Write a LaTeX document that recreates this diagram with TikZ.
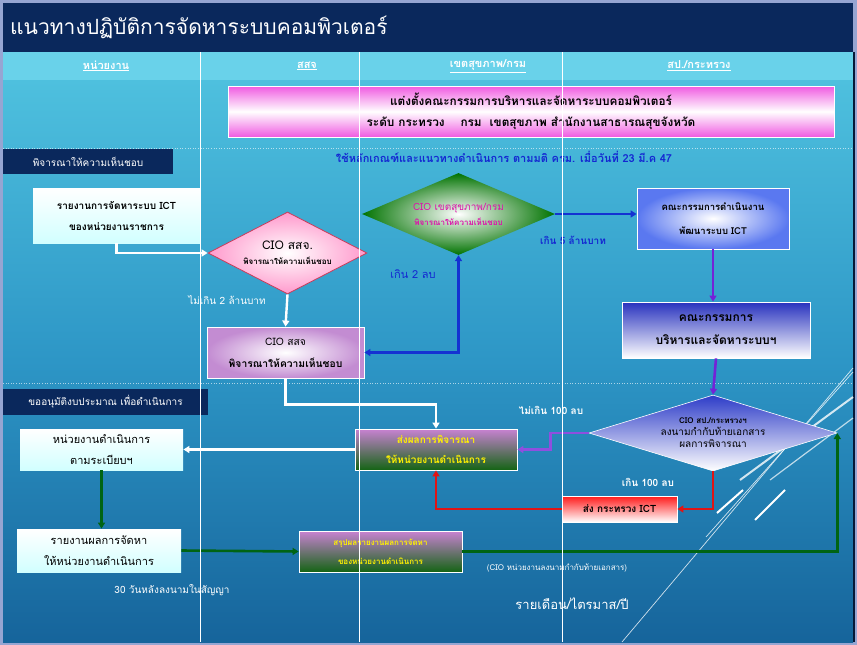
\documentclass[tikz,border=0pt]{standalone}
\usepackage{fontspec}
\setmainfont{Loma}[Script=Thai]
\usetikzlibrary{shapes.geometric,arrows.meta}
\definecolor{framec}{RGB}{150,165,210}
\definecolor{navy}{RGB}{10,40,92}
\definecolor{hdr}{RGB}{105,210,234}
\definecolor{bgtop}{RGB}{78,192,222}
\definecolor{bgmid}{RGB}{45,150,198}
\definecolor{bgbot}{RGB}{22,100,155}
\definecolor{arblue}{RGB}{20,50,210}
\definecolor{arpurp}{RGB}{115,35,215}
\definecolor{arred}{RGB}{225,20,20}
\definecolor{argreen}{RGB}{0,100,20}
\definecolor{txtblue}{RGB}{20,40,210}
\definecolor{magtxt}{RGB}{220,20,170}
\definecolor{pinkmag}{RGB}{240,90,225}
\begin{document}
\begin{tikzpicture}[x=1pt,y=-1pt,
  every node/.style={inner sep=0pt,align=center},
  box/.style={rectangle,draw=white,line width=0.8pt,font=\fontsize{10}{21}\selectfont},
  lightbox/.style={box,top color=white,bottom color=cyan!18,draw=none},
  navylab/.style={rectangle,fill=navy,text=white,font=\fontsize{10}{12}\selectfont},
  hd/.style={text=white,font=\fontsize{11}{13}\selectfont\bfseries},
  lab/.style={font=\fontsize{10}{12}\selectfont},
  wline/.style={white,line width=2.4pt,-{Triangle[width=7pt,length=6pt]}},
  cline/.style={line width=2.6pt,-{Triangle[width=7pt,length=6pt]}}
]
\useasboundingbox (0,0) rectangle (857,645);
% frame and background
\fill[framec] (0,0) rectangle (857,645);
\shade[top color=bgtop,bottom color=bgbot,middle color=bgmid] (3,80) rectangle (853,642);
\fill[hdr] (3,52) rectangle (853,80);
\fill[navy] (3,3) rectangle (853,52);
\draw[navy!60!black,line width=1.5pt] (854,52) -- (854,642);
% decorative diagonal lines
\begin{scope}[white]
\draw[line width=0.7pt,opacity=0.8] (622,642) -- (853,368);
\draw[line width=0.7pt,opacity=0.8] (706,537) -- (853,372);
\draw[line width=2pt] (717,513) -- (743,490);
\draw[line width=2pt] (755,520) -- (785,490);
\draw[line width=2pt,opacity=0.8] (740,480) -- (853,397);
\draw[line width=1.2pt,opacity=0.7] (770,480) -- (853,418);
\end{scope}
% dotted separators
\draw[white,opacity=0.6,dotted,line width=0.6pt] (3,148) -- (853,148);
\draw[white,opacity=0.6,dotted,line width=0.6pt] (3,383) -- (853,383);
% title
\node[anchor=west,text=white,font=\fontsize{21}{24}\selectfont] (title) at (10,27) {แนวทางปฏิบัติการจัดหาระบบคอมพิวเตอร์};
% headers
\node[hd] (h1) at (106,66) {\underline{หน่วยงาน}};
\node[hd] (h2) at (307,66) {\underline{สสจ}};
\node[hd] (h3) at (488,66) {\underline{เขตสุขภาพ/กรม}};
\node[hd] (h4) at (699,66) {\underline{สป./กระทรวง}};
% top pink box
\node[box,minimum width=606,minimum height=51,top color=pinkmag,bottom color=pinkmag,middle color=white,font=\fontsize{11.8}{21}\selectfont\bfseries] (appoint) at (531,111.5)
  {แต่งตั้งคณะกรรมการบริหารและจัดหาระบบคอมพิวเตอร์\\ระดับ กระทรวง \quad กรม \ เขตสุขภาพ สำนักงานสาธารณสุขจังหวัด};
% left section labels
\node[navylab,minimum width=170,minimum height=25] (lab1) at (88,161.5) {พิจารณาให้ความเห็นชอบ};
\node[navylab,minimum width=205,minimum height=26] (lab2) at (105.5,402) {ขออนุมัติงบประมาณ เพื่อดำเนินการ};
\node[text=txtblue,font=\fontsize{11}{13}\selectfont\bfseries] (crit) at (504,157) {ใช้หลักเกณฑ์และแนวทางดำเนินการ ตามมติ ครม. เมื่อวันที่ 23 มี.ค 47};
% boxes
\node[lightbox,minimum width=167,minimum height=55,font=\fontsize{10}{21}\selectfont\bfseries] (r1) at (116.5,215.5) {รายงานการจัดหาระบบ ICT\\ของหน่วยงานราชการ};
\node[diamond,aspect=1.94,draw={rgb,255:red,200;green,60;blue,90},line width=0.8pt,inner color=white,outer color=pink!80!magenta,minimum width=159,minimum height=82] (d1) at (287.5,253)
  {{\fontsize{12}{14}\selectfont CIO สสจ.}\\[3pt]{\fontsize{8}{10}\selectfont\bfseries พิจารณาให้ความเห็นชอบ}};
\node[box,inner color=white,outer color={rgb,255:red,195;green,140;blue,210},minimum width=157,minimum height=51,font=\fontsize{10.3}{22}\selectfont] (b2) at (285.5,352.5) {CIO สสจ\\\bfseries พิจารณาให้ความเห็นชอบ};
\node[diamond,aspect=2.35,draw=none,inner color=white,outer color=green!45!black,minimum width=193,minimum height=82,text=magtxt] (d2) at (458.5,214)
  {{\fontsize{10}{12}\selectfont CIO เขตสุขภาพ/กรม}\\[3pt]{\fontsize{8}{10}\selectfont\bfseries พิจารณาให้ความเห็นชอบ}};
\node[box,inner color=white,outer color={rgb,255:red,90;green,120;blue,240},minimum width=152,minimum height=61,font=\fontsize{9.5}{24}\selectfont\bfseries] (b3) at (713,218.5) {คณะกรรมการดำเนินงาน\\พัฒนาระบบ ICT};
\node[box,top color={rgb,255:red,40;green,50;blue,190},bottom color=white,minimum width=188,minimum height=56,font=\fontsize{12}{23}\selectfont\bfseries] (b4) at (716,330) {คณะกรรมการ\\บริหารและจัดหาระบบฯ};
\node[diamond,aspect=3.26,draw=white,line width=0.6pt,top color={rgb,255:red,45;green,60;blue,200},bottom color=white,minimum width=248,minimum height=76] (d3) at (713,433)
  {\fontsize{8}{13}\selectfont\bfseries CIO สป./กระทรวงฯ\\ลงนามกำกับท้ายเอกสาร\\ผลการพิจารณา};
\node[box,top color={rgb,255:red,200;green,130;blue,210},bottom color={rgb,255:red,20;green,100;blue,20},minimum width=162,minimum height=41,text=yellow,font=\fontsize{10}{20}\selectfont\bfseries] (b5) at (436,449.5) {ส่งผลการพิจารณา\\ให้หน่วยงานดำเนินการ};
\node[lightbox,minimum width=163,minimum height=41,font=\fontsize{11}{21}\selectfont] (b6) at (101.5,449.5) {หน่วยงานดำเนินการ\\ตามระเบียบฯ};
\node[lightbox,minimum width=164,minimum height=43,font=\fontsize{11}{21}\selectfont] (b7) at (99,550.5) {รายงานผลการจัดหา\\ให้หน่วยงานดำเนินการ};
\node[box,top color={rgb,255:red,200;green,130;blue,210},bottom color={rgb,255:red,20;green,100;blue,20},minimum width=163,minimum height=41,text=yellow,font=\fontsize{8}{19}\selectfont\bfseries] (b8) at (380.5,551.5) {สรุปผลรายงานผลการจัดหา\\ของหน่วยงานดำเนินการ};
\node[box,top color=red!90,bottom color=white,minimum width=115,minimum height=26,font=\fontsize{10}{12}\selectfont\bfseries] (b9) at (619.5,509) {ส่ง กระทรวง ICT};
% labels
\node[lab,text=white] (l2m) at (227,300) {ไม่เกิน 2 ล้านบาท};
\node[lab,text=txtblue,font=\fontsize{11}{13}\selectfont] (g2) at (413,274) {เกิน 2 ลบ};
\node[lab,text=txtblue,font=\fontsize{10}{12}\selectfont\bfseries] (g5) at (573,240) {เกิน 5 ล้านบาท};
\node[lab,text=white,font=\fontsize{10}{12}\selectfont\bfseries] (n100) at (551,410) {ไม่เกิน 100 ลบ};
\node[lab,text=white,font=\fontsize{10}{12}\selectfont\bfseries] (g100) at (648,482) {เกิน 100 ลบ};
\node[lab,text=white] (d30) at (172,590) {30 วันหลังลงนามในสัญญา};
\node[text=white,font=\fontsize{8}{10}\selectfont] (cio) at (557,568) {(CIO หน่วยงานลงนามกำกับท้ายเอกสาร)};
\node[text=white,font=\fontsize{13}{15}\selectfont] (per) at (572,604) {รายเดือน/ไตรมาส/ปี};
% connectors
\draw[wline] (r1.south) |- (d1.west);
\draw[wline] (d1.south) -- (b2.north);
\draw[cline,arblue,{Triangle[width=7pt,length=6pt]}-{Triangle[width=7pt,length=6pt]}] (d2.south) |- (b2.east);
\draw[cline,arblue,line width=1.8pt] (d2.east) -- (d2.east -| b3.west);
\draw[cline,arpurp] (b3.south) -- (b3.south |- b4.north);
\draw[cline,arpurp] (b4.south) -- (d3.north);
\draw[cline,arpurp!80!white] (d3.west) -- ++(-38,0) |- (b5.east);
\draw[wline] (b2.south) -- ++(0,26) -| (b5.north);
\draw[wline] (b5.west) -- (b6.east);
\draw[cline,arred] (d3.south) |- (b9.east);
\draw[cline,arred] (b9.west) -| (b5.south);
\draw[cline,argreen] (b6.south) -- (b6.south |- b7.north);
\draw[cline,argreen] (b7.east) -- (b8.west);
\draw[cline,argreen] (b8.east) -| (d3.east);
% column separators
\foreach \cx in {200,359,562} \draw[white,line width=0.7pt] (\cx,52) -- (\cx,642);
\end{tikzpicture}
\end{document}
